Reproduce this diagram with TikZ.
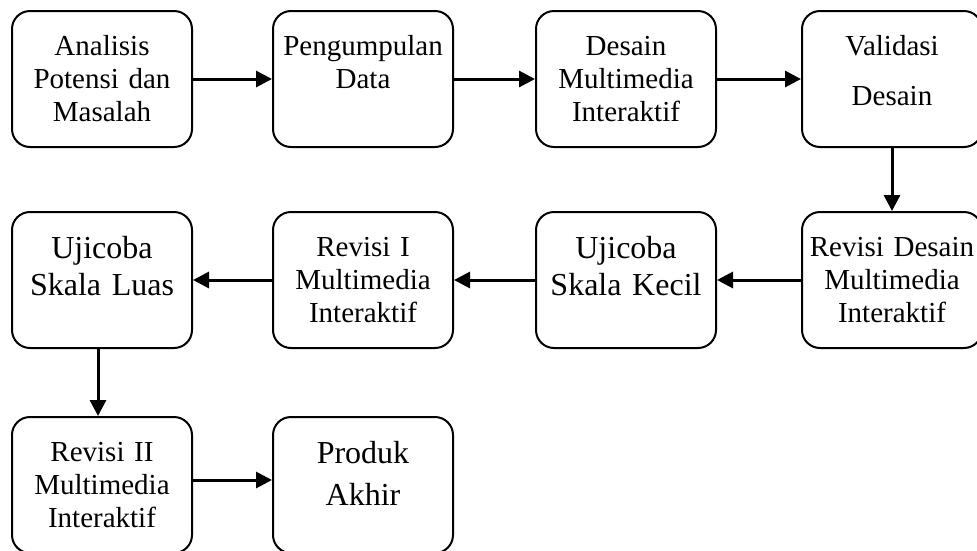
\documentclass[tikz,border=0pt]{standalone}
\usepackage{fontspec}
\setmainfont{Liberation Serif}
\usetikzlibrary{arrows.meta}

\tikzset{
  stage/.style={draw, line width=2pt, rounded corners=18pt,
    inner sep=0pt, text width=180pt, align=center,
    text height=44pt, text depth=92pt,
    font=\fontsize{29pt}{33pt}\selectfont},
  bigstage/.style={stage, text height=46pt, text depth=90pt,
    font=\fontsize{32pt}{37pt}\selectfont},
  flow/.style={line width=3pt, -{Triangle[length=16pt,width=16pt]}}
}

\begin{document}
\begin{tikzpicture}[x=1pt, y=-1pt]

  %% Border of the page.
  \useasboundingbox (0,0) rectangle (977,550);
  \clip (0,0) rectangle (977,550);

  %% First row:
  \node[stage] (anal) at (102,79) {Analisis\\Potensi dan\\Masalah};
  \node[stage] (kumpul) at (363,79) {Pengumpulan\\Data};
  \node[stage] (desain) at (626,79) {Desain\\Multimedia\\Interaktif};
  \node[stage, font=\fontsize{29pt}{50pt}\selectfont] (valid) at (892,79)
  {Validasi\\Desain};

  %% Second row:
  \node[stage] (revdes) at (892,280) {Revisi Desain\\Multimedia\\Interaktif};
  \node[bigstage] (ujikecil) at (626,280) {Ujicoba\\Skala Kecil};
  \node[stage] (rev1) at (363,280) {Revisi I\\Multimedia\\Interaktif};
  \node[bigstage] (ujiluas) at (102,280) {Ujicoba\\Skala Luas};

  %% Third row:
  \node[stage] (rev2) at (102,485) {Revisi II\\Multimedia\\Interaktif};
  \node[bigstage, font=\fontsize{32pt}{42pt}\selectfont] (produk) at (363,485)
  {Produk\\Akhir};

  %% The connections:
  \draw[flow] (anal) -- (kumpul);
  \draw[flow] (kumpul) -- (desain);
  \draw[flow] (desain) -- (valid);
  \draw[flow] (valid) -- (revdes);
  \draw[flow] (revdes) -- (ujikecil);
  \draw[flow] (ujikecil) -- (rev1);
  \draw[flow] (rev1) -- (ujiluas);
  \draw[flow] ([xshift=-4pt]ujiluas.south) -- ([xshift=-4pt]rev2.north);
  \draw[flow] ([yshift=5pt]rev2.east) -- ([yshift=5pt]produk.west);

\end{tikzpicture}
\end{document}
